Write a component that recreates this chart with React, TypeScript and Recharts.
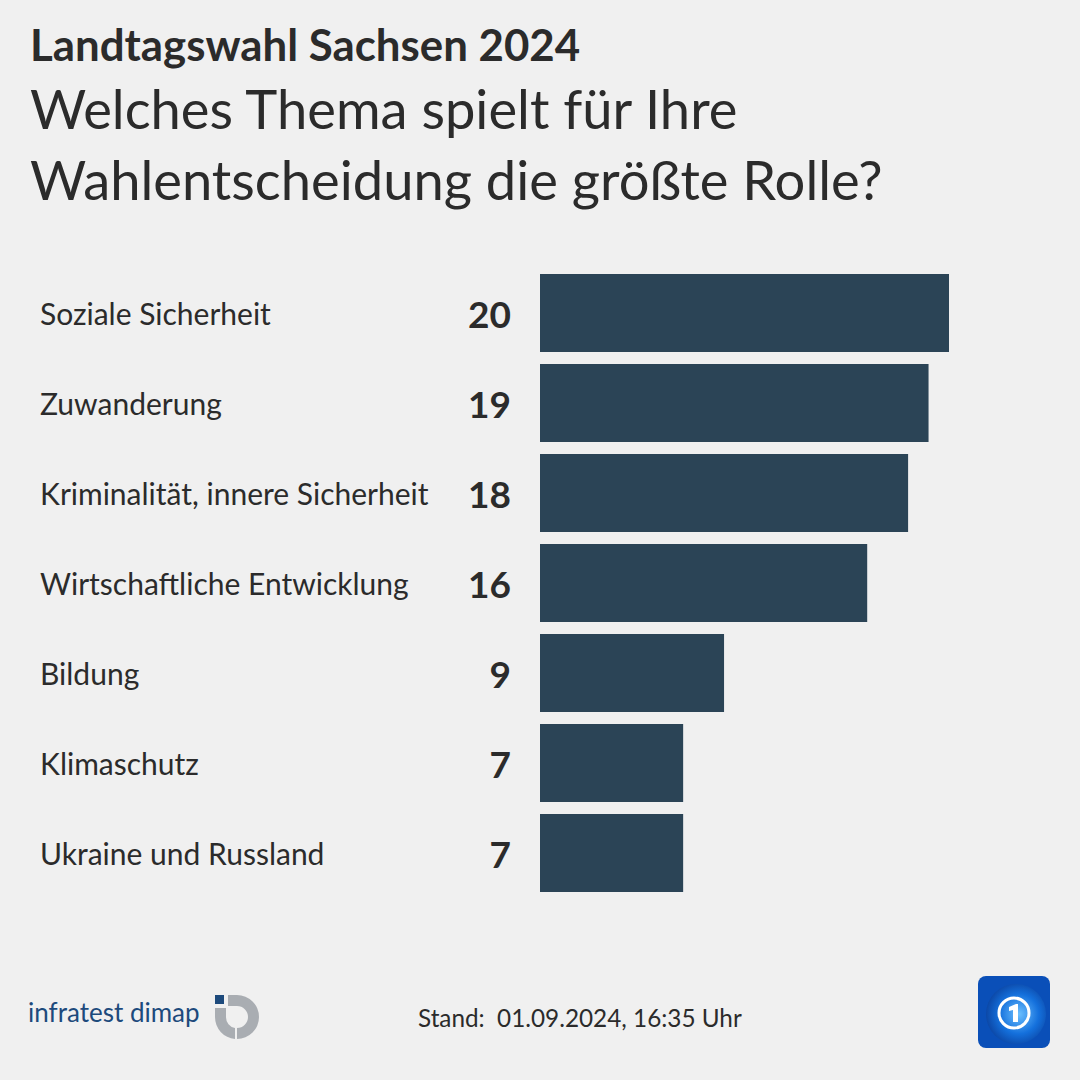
import React from "react";
import { BarChart, Bar, XAxis, YAxis, LabelList } from "recharts";

const categories = [
  "Soziale Sicherheit",
  "Zuwanderung",
  "Kriminalität, innere Sicherheit",
  "Wirtschaftliche Entwicklung",
  "Bildung",
  "Klimaschutz",
  "Ukraine und Russland",
];
const values = [20, 19, 18, 16, 9, 7, 7];

const titleTop = "Landtagswahl Sachsen 2024";
const titleLines = ["Welches Thema spielt für Ihre", "Wahlentscheidung die größte Rolle?"];
const footerText = "Stand:  01.09.2024, 16:35 Uhr";
const sourceText = "infratest dimap";

const data = categories.map((name, i) => ({ name, value: values[i] }));

const FONT = "Lato, 'Noto Sans', sans-serif";
const TEXT = "#2b2b2b";
const BAR = "#2b4456";
const BG = "#f0f0f0";

const NameLabel = (props: any) => {
  const { y, height, value } = props;
  return (
    <text
      x={40}
      y={y + height / 2}
      dominantBaseline="central"
      fontFamily={FONT}
      fontSize={30}
      fill={TEXT}
    >
      {value}
    </text>
  );
};

const ValueLabel = (props: any) => {
  const { x, y, height, value } = props;
  return (
    <text
      x={x - 29}
      y={y + height / 2}
      dominantBaseline="central"
      textAnchor="end"
      fontFamily={FONT}
      fontWeight={700}
      fontSize={37}
      fill={TEXT}
    >
      {value}
    </text>
  );
};

export default function App() {
  return (
    <div
      style={{
        position: "absolute",
        left: 0,
        top: 0,
        width: 1080,
        height: 1080,
        background: BG,
        overflow: "hidden",
        fontFamily: FONT,
        color: TEXT,
      }}
    >
      <div style={{ position: "absolute", left: 30, top: 17, fontSize: 43.8, fontWeight: 700, lineHeight: "54px", whiteSpace: "nowrap" }}>
        {titleTop}
      </div>
      <div style={{ position: "absolute", left: 30, top: 73, fontSize: 54.3, lineHeight: "71px", whiteSpace: "nowrap" }}>
        {titleLines.map((l) => (
          <div key={l}>{l}</div>
        ))}
      </div>

      <div style={{ position: "absolute", left: 0, top: 0 }}>
        <BarChart
          width={1080}
          height={1080}
          data={data}
          layout="vertical"
          margin={{ top: 268, bottom: 182, left: 540, right: 131 }}
          barCategoryGap={12}
        >
          <XAxis type="number" domain={[0, 20]} hide />
          <YAxis type="category" dataKey="name" hide />
          <Bar dataKey="value" fill={BAR} barSize={78} isAnimationActive={false}>
            <LabelList dataKey="name" content={<NameLabel />} />
            <LabelList dataKey="value" content={<ValueLabel />} />
          </Bar>
        </BarChart>
      </div>

      <div style={{ position: "absolute", left: 28, top: 996, fontSize: 26, color: "#1d4a7c", whiteSpace: "nowrap" }}>
        {sourceText}
      </div>
      <svg style={{ position: "absolute", left: 212, top: 992 }} width={52} height={50} viewBox="0 0 52 50">
        <rect x={3} y={3} width={9} height={9} fill="#1d4a7c" />
        <path d="M16 3 L25 3 A22 22 0 0 1 25 47 L25 36 A11 11 0 0 0 25 14 L16 14 Z" fill="#a9adb2" />
        <path d="M3 16 L14 16 L14 25 A11 11 0 0 0 23 36 L23 47 A22 22 0 0 1 3 25 Z" fill="#a9adb2" />
      </svg>

      <div style={{ position: "absolute", left: 418, top: 1003, fontSize: 24.3, whiteSpace: "pre" }}>
        {footerText}
      </div>

      <svg style={{ position: "absolute", left: 978, top: 976 }} width={72} height={72} viewBox="0 0 72 72">
        <defs>
          <radialGradient id="g" cx="0.55" cy="0.5" r="0.6">
            <stop offset="0" stopColor="#6cc0ff" />
            <stop offset="0.55" stopColor="#1470dc" />
            <stop offset="1" stopColor="#0a3e9a" />
          </radialGradient>
        </defs>
        <rect x={0} y={0} width={72} height={72} rx={8} fill="#0a4fb8" />
        <circle cx={38} cy={38} r={30} fill="url(#g)" />
        <circle cx={36} cy={37} r={15} fill="none" stroke="#ffffff" strokeWidth={3} />
        <path d="M31 31 L38 28 L40 28 L40 46 L35 46 L35 34 L31 35 Z" fill="#ffffff" />
      </svg>
    </div>
  );
}
